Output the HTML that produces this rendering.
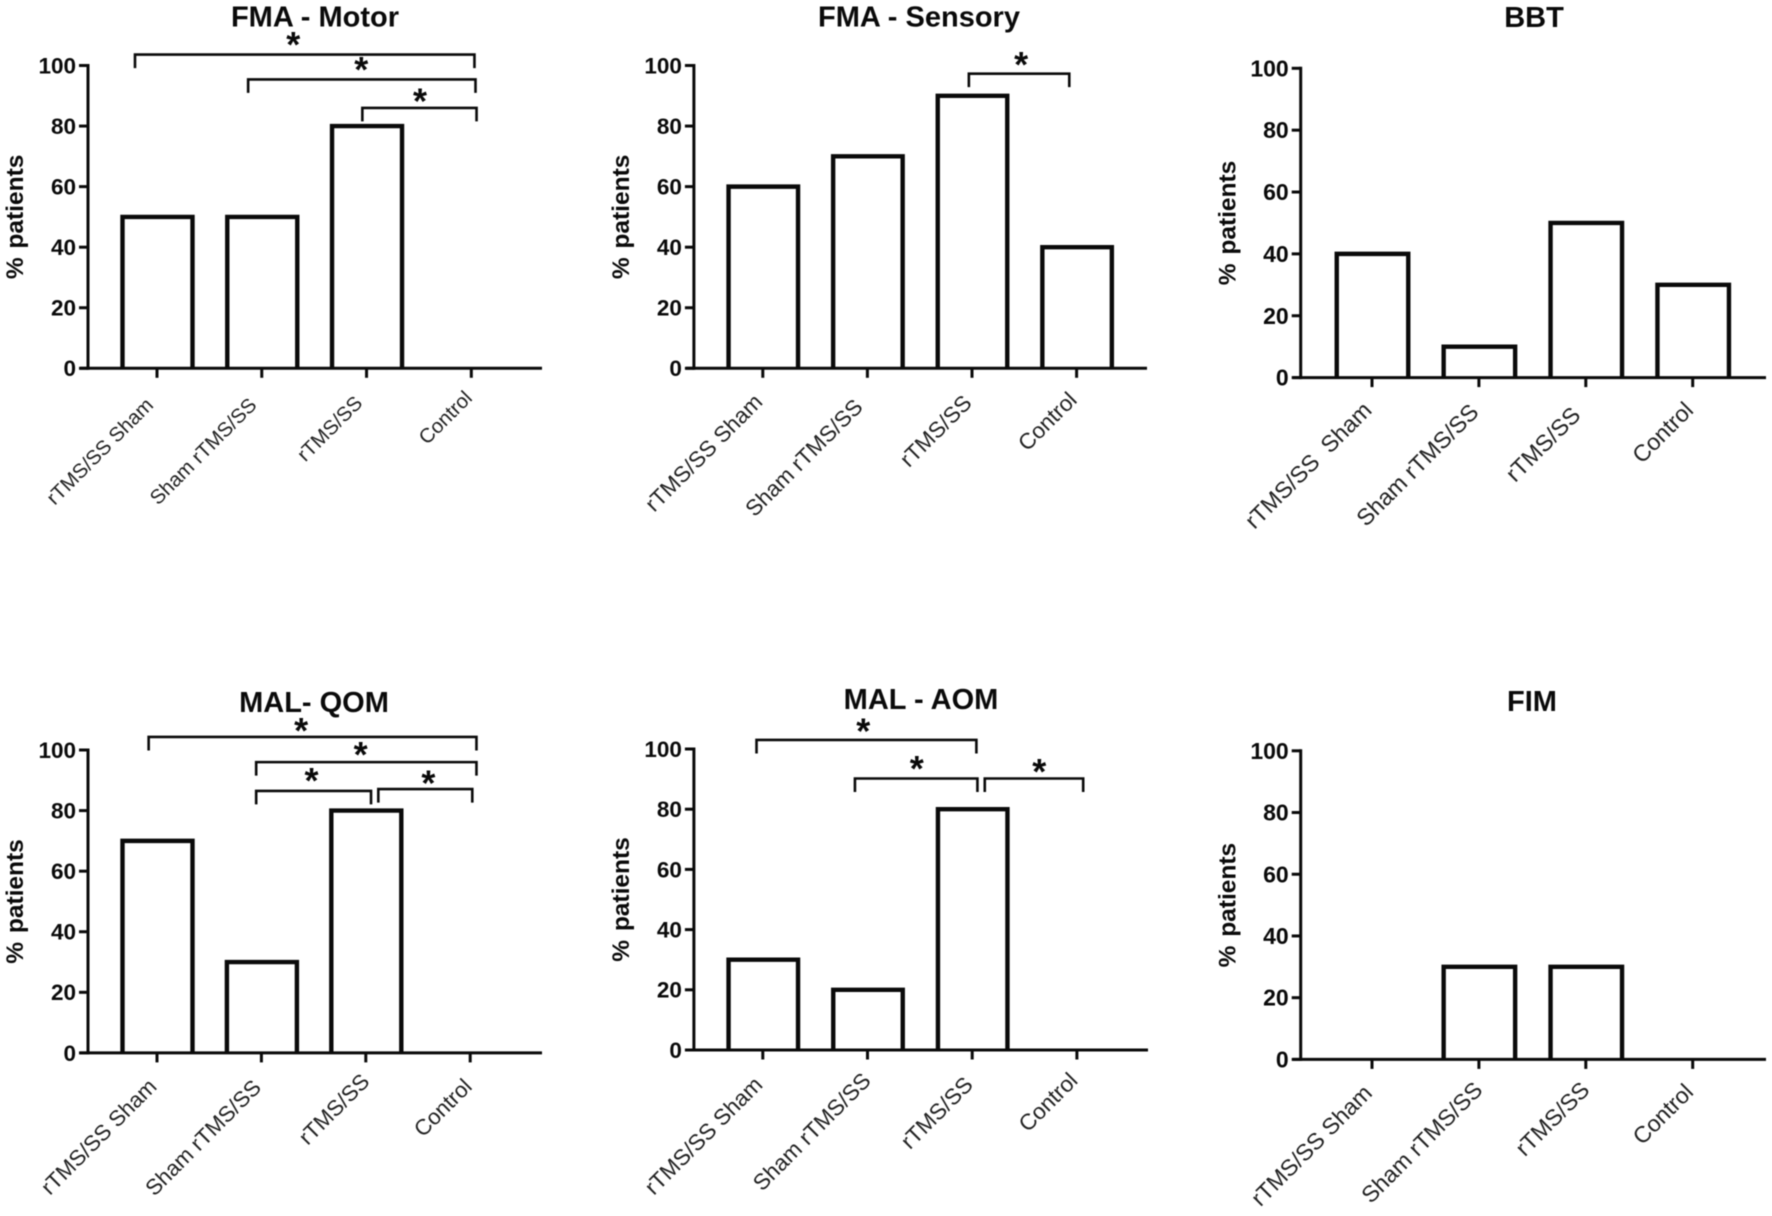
<!DOCTYPE html>
<html lang="en">
<head>
<meta charset="utf-8">
<title>Percentage of patients by treatment group</title>
<style>
html,body{margin:0;padding:0;background:#fff;width:1772px;height:1216px;overflow:hidden}
svg{display:block;font-family:"Liberation Sans",Arial,sans-serif;filter:blur(0.4px)}
</style>
</head>
<body>
<svg id="figure" xmlns="http://www.w3.org/2000/svg" width="1772" height="1216" viewBox="0 0 1772 1216"></svg>
<script>
const categories = ['rTMS/SS Sham', 'Sham rTMS/SS', 'rTMS/SS', 'Control'];
const categoriesBbt = ['rTMS/SS  Sham', 'Sham rTMS/SS', 'rTMS/SS', 'Control'];
const yTickLabels = [0, 20, 40, 60, 80, 100];

const fmaMotorValues = [50, 50, 80, 0];
const fmaSensoryValues = [60, 70, 90, 40];
const bbtValues = [40, 10, 50, 30];
const malQomValues = [70, 30, 80, 0];
const malAomValues = [30, 20, 80, 0];
const fimValues = [0, 30, 30, 0];

const fmaMotorBrackets = [
  {from: -0.21, to: 3.03, level: 103.6, starAt: 1.30, starLevel: 108.4},
  {from: 0.87, to: 3.04, level: 95.4, starAt: 1.95, starLevel: 100.2},
  {from: 1.96, to: 3.05, level: 86, starAt: 2.51, starLevel: 89.8}
];
const fmaSensoryBrackets = [
  {from: 1.97, to: 2.93, level: 97.3, starAt: 2.47, starLevel: 101.8}
];
const malQomBrackets = [
  {from: -0.08, to: 3.06, level: 104.3, starAt: 1.38, starLevel: 107.9},
  {from: 0.95, to: 3.06, level: 96, starAt: 1.95, starLevel: 100},
  {from: 0.95, to: 2.05, level: 86.5, starAt: 1.48, starLevel: 91.4},
  {from: 2.12, to: 3.02, level: 87.1, starAt: 2.60, starLevel: 90.6}
];
const malAomBrackets = [
  {from: -0.06, to: 2.04, level: 103, starAt: 0.96, starLevel: 107.4},
  {from: 0.88, to: 2.05, level: 90.2, starAt: 1.47, starLevel: 95},
  {from: 2.12, to: 3.06, level: 90.2, starAt: 2.64, starLevel: 94.1}
];

const SVG_NS = 'http://www.w3.org/2000/svg';
const figure = document.getElementById('figure');

function make(parent, tag, attrs, text) {
  const el = document.createElementNS(SVG_NS, tag);
  for (const k in attrs) el.setAttribute(k, attrs[k]);
  if (text !== undefined) el.textContent = text;
  parent.appendChild(el);
  return el;
}

function drawPanel(p) {
  const xScale = i => p.tickStart + i * p.tickStep;
  const yScale = v => p.yZero - (v / 100) * (p.yZero - p.yFull);
  const ink = '#0a0a0a';

  const g = make(figure, 'g', {});
  
  

  const title = make(g, 'text', {x: p.titleX, y: p.titleY, 'text-anchor': 'middle', 'font-size': 29, 'font-weight': 'bold', fill: ink}, p.title);
  
  

  const yMid = (p.yZero + p.yFull) / 2;
  const yTitle = make(g, 'text', {
    x: p.axisX - 65, y: yMid, 'text-anchor': 'middle', 'font-size': 24.5, 'font-weight': 'bold', fill: ink, 'word-spacing': 2,
    transform: 'rotate(-90 ' + (p.axisX - 65) + ' ' + yMid + ')'
  }, '% patients');
  
  

  p.values.forEach((v, i) => {
    if (v <= 0) return;
    const left = xScale(i) - p.barWidth / 2 + 0.5;
    const right = left + p.barWidth;
    const bar = make(g, 'path', {
      d: 'M' + left + ' ' + yScale(0) + 'V' + yScale(v) + 'H' + right + 'V' + yScale(0),
      fill: '#fff', stroke: ink, 'stroke-width': 4.4
    });
    
    
  });

  const yAxis = make(g, 'line', {x1: p.axisX, x2: p.axisX, y1: p.yFull - 1.5, y2: p.yZero + 1.5, stroke: ink, 'stroke-width': 3});
  
  

  const xAxis = make(g, 'line', {x1: p.axisX - 8, x2: p.axisEnd, y1: p.yZero, y2: p.yZero, stroke: ink, 'stroke-width': 3});
  
  

  yTickLabels.forEach(t => {
    const tick = make(g, 'line', {x1: p.axisX - 9, x2: p.axisX, y1: yScale(t), y2: yScale(t), stroke: ink, 'stroke-width': 3});
    
    
    const label = make(g, 'text', {x: p.axisX - 12, y: yScale(t) + p.tickSize * 0.35, 'text-anchor': 'end', 'font-size': p.tickSize, 'font-weight': 'bold', fill: ink}, String(t));
    
    
  });

  p.categories.forEach((c, i) => {
    const tx = xScale(i);
    const tick = make(g, 'line', {x1: tx, x2: tx, y1: p.yZero, y2: p.yZero + 9.5, stroke: ink, 'stroke-width': 3});
    
    
    const lx = tx + p.labelDx[i];
    const ly = p.yZero + p.labelDy[i];
    const label = make(g, 'text', {
      x: lx, y: ly, 'text-anchor': 'end', 'font-size': p.labelSize, fill: '#222',
      transform: 'rotate(-45 ' + lx + ' ' + ly + ')', style: 'white-space:pre'
    }, c);
    
    
  });

  (p.brackets || []).forEach((b, i) => {
    const x1 = xScale(b.from);
    const x2 = xScale(b.to);
    const y = yScale(b.level);
    const path = make(g, 'path', {
      d: 'M' + x1 + ' ' + (y + 13.5) + 'V' + y + 'H' + x2 + 'V' + (y + 13.5),
      fill: 'none', stroke: ink, 'stroke-width': 2.6
    });
    
    
    const star = make(g, 'text', {
      x: xScale(b.starAt), y: yScale(b.starLevel) + 17, 'text-anchor': 'middle', 'font-size': 36, 'font-weight': 'bold', fill: ink
    }, '*');
    
    
  });
}

drawPanel({name: 'fma-motor', title: 'FMA - Motor', titleX: 315, titleY: 26.5, values: fmaMotorValues, categories: categories, brackets: fmaMotorBrackets,
  axisX: 88, axisEnd: 542, yFull: 65.5, yZero: 368.3, tickStart: 157, tickStep: 104.77, barWidth: 70, tickSize: 22.5, labelSize: 20.3,
  labelDx: [-2.6, -4, -3, 2], labelDy: [38, 38, 36, 31]});
drawPanel({name: 'fma-sensory', title: 'FMA - Sensory', titleX: 919, titleY: 26.5, values: fmaSensoryValues, categories: categories, brackets: fmaSensoryBrackets,
  axisX: 693.9, axisEnd: 1147, yFull: 65.5, yZero: 368.3, tickStart: 762.8, tickStep: 104.6, barWidth: 69.5, tickSize: 22.5, labelSize: 22.3,
  labelDx: [1, -3.4, 1, 1.5], labelDy: [35, 40, 36, 33]});
drawPanel({name: 'bbt', title: 'BBT', titleX: 1534, titleY: 27, values: bbtValues, categories: categoriesBbt,
  axisX: 1300.7, axisEnd: 1766, yFull: 68.3, yZero: 377.6, tickStart: 1372, tickStep: 106.9, barWidth: 71.5, tickSize: 23, labelSize: 23.2,
  labelDx: [1, 1, -4, 2], labelDy: [34, 36, 39, 34]});
drawPanel({name: 'mal-qom', title: 'MAL- QOM', titleX: 314, titleY: 712, values: malQomValues, categories: categories, brackets: malQomBrackets,
  axisX: 88, axisEnd: 542, yFull: 750, yZero: 1052.9, tickStart: 157, tickStep: 104.4, barWidth: 70, tickSize: 22.5, labelSize: 22,
  labelDx: [1, 1, 5, 3], labelDy: [35, 36, 30, 35]});
drawPanel({name: 'mal-aom', title: 'MAL - AOM', titleX: 921, titleY: 709, values: malAomValues, categories: categories, brackets: malAomBrackets,
  axisX: 693.9, axisEnd: 1148, yFull: 749, yZero: 1050, tickStart: 762.8, tickStep: 104.7, barWidth: 69.5, tickSize: 22.5, labelSize: 22.4,
  labelDx: [1, 4.6, 2, 2], labelDy: [36, 32, 36, 32]});
drawPanel({name: 'fim', title: 'FIM', titleX: 1532, titleY: 711, values: fimValues, categories: categories,
  axisX: 1300.7, axisEnd: 1766, yFull: 750.8, yZero: 1059.4, tickStart: 1372, tickStep: 106.9, barWidth: 71.5, tickSize: 23, labelSize: 23,
  labelDx: [1.5, 5, 5, 2], labelDy: [35, 32, 32, 34]});
</script>
</body>
</html>
